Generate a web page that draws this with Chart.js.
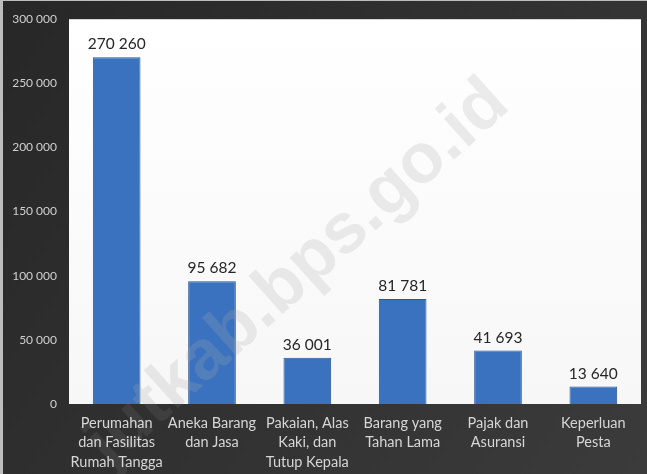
<!DOCTYPE html>
<html>
<head>
<meta charset="utf-8">
<script src="https://cdn.jsdelivr.net/npm/chart.js@4.4.1/dist/chart.umd.min.js"></script>
<style>
  body { margin: 0; background: #2b2b2b; }
  canvas { display: block; }
</style>
</head>
<body>
<canvas id="myChart" width="647" height="474"></canvas>
<script>
const categories = [
    ['Perumahan', 'dan Fasilitas', 'Rumah Tangga'],
    ['Aneka Barang', 'dan Jasa'],
    ['Pakaian, Alas', 'Kaki, dan', 'Tutup Kepala'],
    ['Barang yang', 'Tahan Lama'],
    ['Pajak dan', 'Asuransi'],
    ['Keperluan', 'Pesta']
];
const values = [270260, 95682, 36001, 81781, 41693, 13640];
const yTicks = [0, 50000, 100000, 150000, 200000, 250000, 300000];

const fmt = (n) => String(n).replace(/\B(?=(\d{3})+(?!\d))/g, ' ');

// dark frame + white plot area
const backdrop = {
    id: 'backdrop',
    beforeDraw(chart) {
        const { ctx, width, height, chartArea: a } = chart;
        ctx.save();
        let g = ctx.createLinearGradient(0, 0, width, height);
        g.addColorStop(0, '#272727');
        g.addColorStop(1, '#3b3b3b');
        ctx.fillStyle = g;
        ctx.fillRect(0, 0, width, height);
        ctx.fillStyle = '#bdbdbd';
        ctx.fillRect(0, 0, 3, height);
        ctx.fillRect(0, 0, width, 1);
        g = ctx.createLinearGradient(0, a.top, 0, a.bottom);
        g.addColorStop(0, '#ffffff');
        g.addColorStop(1, '#f7f7f7');
        ctx.fillStyle = g;
        ctx.fillRect(a.left, a.top, a.right - a.left, a.bottom - a.top);
        ctx.restore();
    }
};

// value labels over bars
const valueLabels = {
    id: 'valueLabels',
    afterDatasetsDraw(chart) {
        const { ctx } = chart;
        const meta = chart.getDatasetMeta(0);
        ctx.save();
        ctx.font = '15.5px Lato';
        ctx.fillStyle = '#262626';
        ctx.textAlign = 'center';
        ctx.textBaseline = 'alphabetic';
        meta.data.forEach((bar, i) => {
            ctx.fillText(fmt(values[i]), bar.x, bar.y - 8);
        });
        ctx.restore();
    }
};

// diagonal watermark
const watermark = {
    id: 'watermark',
    afterDraw(chart) {
        const { ctx, chartArea: a } = chart;
        const txt = 'jutkab.bps.go.id';
        const draw = (color) => {
            ctx.save();
            ctx.translate(298, 274);
            ctx.rotate(-42 * Math.PI / 180);
            ctx.font = 'bold 60px "Liberation Sans"';
            const w = ctx.measureText(txt).width;
            const s = 540 / w;
            ctx.scale(s, s);
            ctx.fillStyle = color;
            ctx.textAlign = 'center';
            ctx.textBaseline = 'middle';
            ctx.fillText(txt, 0, 0);
            ctx.restore();
        };
        ctx.save();
        ctx.beginPath();
        ctx.rect(a.left, a.top, a.right - a.left, a.bottom - a.top);
        ctx.clip();
        draw('rgba(170,170,170,0.22)');
        ctx.restore();
        ctx.save();
        ctx.beginPath();
        ctx.rect(0, 0, chart.width, chart.height);
        ctx.rect(a.left, a.top, a.right - a.left, a.bottom - a.top);
        ctx.clip('evenodd');
        draw('rgba(255,255,255,0.07)');
        ctx.restore();
    }
};

const ctx1 = document.getElementById('myChart').getContext('2d');

new Chart(ctx1, {
    type: 'bar',
    data: {
        labels: categories,
        datasets: [{
            data: values,
            backgroundColor: (c) => {
                const bar = c.element;
                if (!bar || bar.width === undefined || !isFinite(bar.x)) return '#3a72bf';
                const x0 = bar.x - bar.width / 2;
                const g = c.chart.ctx.createLinearGradient(x0, 0, x0 + bar.width, 0);
                g.addColorStop(0, '#2a5ba0');
                g.addColorStop(0.5, '#4f8ad3');
                g.addColorStop(1, '#2a5ba0');
                return g;
            },
            borderColor: '#2a5797',
            borderWidth: 1,
            barPercentage: 0.5,
            categoryPercentage: 1
        }]
    },
    options: {
        responsive: false,
        animation: false,
        layout: { padding: { top: 15, right: 6, left: 0, bottom: 0 } },
        plugins: {
            legend: { display: false },
            tooltip: { enabled: false }
        },
        scales: {
            x: {
                grid: { display: false, drawTicks: false },
                border: { display: false },
                ticks: {
                    color: '#d6d6d6',
                    font: { family: 'Lato', size: 14.5, lineHeight: 1.32 },
                    padding: 10,
                    maxRotation: 0,
                    autoSkip: false
                },
                afterFit(scale) { scale.height = 70; }
            },
            y: {
                min: 0,
                max: 300000,
                afterBuildTicks(scale) { scale.ticks = yTicks.map(v => ({ value: v })); },
                grid: { display: false, drawTicks: false },
                border: { display: false },
                ticks: {
                    color: '#cfcfcf',
                    font: { family: 'Lato', size: 12 },
                    padding: 12,
                    callback: (v) => fmt(v)
                },
                afterFit(scale) { scale.width = 69; }
            }
        }
    },
    plugins: [backdrop, valueLabels, watermark]
});
</script>
</body>
</html>
